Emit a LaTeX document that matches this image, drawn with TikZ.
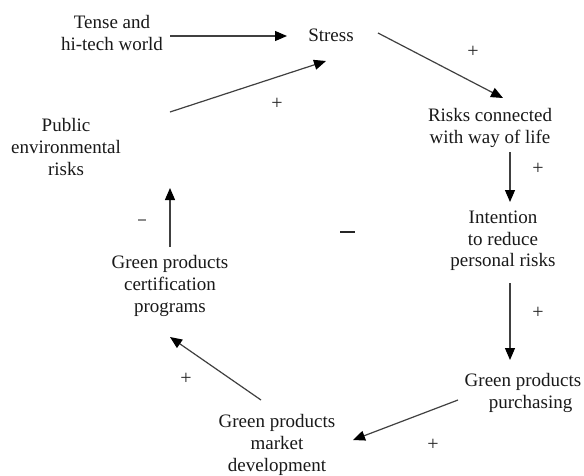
\documentclass[tikz,border=0pt]{standalone}
\usepackage{fontspec}
\setmainfont{Liberation Serif}
\usetikzlibrary{arrows.meta}
\begin{document}
\begin{tikzpicture}[x=1pt,y=-1pt,
  concept/.style={align=center,inner sep=3pt,text=black!90,
    font=\fontsize{19}{21.7}\selectfont},
  link/.style={draw=black!75,line width=1.2pt,
    -{Triangle[length=12pt,width=10pt,fill=black,color=black]}},
  sign/.style={text=black!85,font=\fontsize{20}{22}\selectfont,inner sep=0pt}]
  \useasboundingbox[fill=white] (0,0) rectangle (584,475);

  % causal loop elements
  \node[concept] (tense) at (112,33) {Tense and\\hi-tech world};
  \node[concept] (stress) at (331,35) {Stress};
  \node[concept] (pub) at (66,147) {Public\\environmental\\risks};
  \node[concept] (risks) at (490,128) {Risks connected\\with way of life};
  \node[concept] (intent) at (503,241) {Intention\\to reduce\\personal risks};
  \node[concept] (purch) at (523,393) {Green products\\\hspace*{0.8em}purchasing};
  \node[concept] (market) at (277,445) {Green products\\market\\development};
  \node[concept] (cert) at (170,286) {Green products\\certification\\programs};

  % causal links
  \draw[link] ([shift={(58,3)}]tense.center) -- ([shift={(-44,1)}]stress.center);
  \draw[link] ([shift={(104,-35)}]pub.center) -- ([shift={(-5,26)}]stress.center);
  \draw[link] ([shift={(47,-2)}]stress.center) -- ([shift={(13,-30)}]risks.center);
  \draw[link] ([shift={(20,24)}]risks.center) -- ([shift={(20,-39)}]risks.center |- intent.center);
  \draw[link] ([shift={(7,42)}]intent.center) -- ([shift={(-13,-33)}]purch.center);
  \draw[link] ([shift={(-65,7)}]purch.center) -- ([shift={(76,-5)}]market.center);
  \draw[link] ([shift={(-16,-45)}]market.center) -- ([shift={(0,51)}]cert.center);
  \draw[link] ([shift={(0,-39)}]cert.center) -- ([shift={(104,41)}]pub.center);

  % polarity signs
  \node[sign] (s1) at (277,104) {+};
  \node[sign] (s2) at (473,52) {+};
  \node[sign] (s3) at (538,169) {+};
  \node[sign] (s4) at (538,313) {+};
  \node[sign] (s5) at (433,445) {+};
  \node[sign] (s6) at (186,379) {+};
  \draw[line width=1.2pt,black!45] (138,220) -- (146,220);
  \draw[line width=2pt,black!85] (340,232) -- (355,232);
\end{tikzpicture}
\end{document}
